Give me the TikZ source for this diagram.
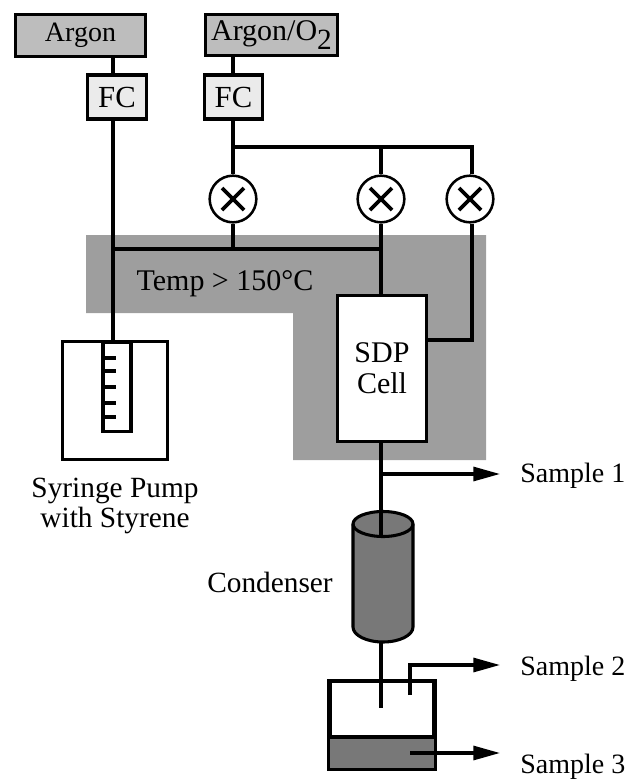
\documentclass[tikz,border=0pt]{standalone}
\usepackage{fontspec}
\setmainfont{Liberation Serif}
\usetikzlibrary{arrows.meta,calc}
\definecolor{heat}{gray}{0.62}
\definecolor{gasfill}{gray}{0.74}
\definecolor{fcfill}{gray}{0.92}
\definecolor{darkfill}{gray}{0.47}
\tikzset{
  ln/.style={line width=2.3pt,black},
  box/.style={draw=black,line width=2.3pt,inner sep=0pt,anchor=center,font=\fontsize{21}{24}\selectfont,align=center},
  gasbox/.style={box,fill=gasfill},
  fcbox/.style={box,fill=fcfill,minimum width=44pt,minimum height=33pt,font=\fontsize{23}{24}\selectfont},
  valve/.style={circle,draw=black,line width=1.9pt,fill=white,minimum size=35pt,inner sep=0pt},
  txt/.style={font=\fontsize{22}{22}\selectfont,inner sep=0pt,align=center},
  smp/.style={font=\fontsize{21}{22}\selectfont,inner sep=0pt,anchor=base west},
  arr/.style={line width=2.3pt,black,-{Triangle[length=20pt,width=10.5pt]}}
}
\begin{document}
\begin{tikzpicture}[x=0.75pt,y=-0.75pt]
\useasboundingbox (0,0) rectangle (638,783);
% heated zone
\fill[heat] (86,235) -- (486,235) -- (486,460) -- (293,460) -- (293,313) -- (86,313) -- cycle;
% tube reference lines
\coordinate (xa) at (113,0);
\coordinate (xb) at (233,0);
\coordinate (xc) at (381,0);
\coordinate (xd) at (472,0);
% boxes
\node[gasbox,minimum width=98pt,minimum height=31pt] (argon) at (80.5,35.5) {Argon};
\node[gasbox,minimum width=99pt,minimum height=31pt,font=\fontsize{22.5}{24}\selectfont] (argono) at (271.5,35) {Argon/O\raisebox{-7pt}{\fontsize{22}{22}\selectfont 2}};
\node[fcbox] (fc1) at (117,97) {FC};
\node[fcbox] (fc2) at (233.5,97) {FC};
\node[valve] (v1) at (233,199) {};
\node[valve] (v2) at (381,199) {};
\node[valve] (v3) at (470,199) {};
\foreach \v in {v1,v2,v3}{
  \draw[line width=2.8pt] ([shift={(-11,-11)}]\v.center) -- ([shift={(11,11)}]\v.center);
  \draw[line width=2.8pt] ([shift={(-11,11)}]\v.center) -- ([shift={(11,-11)}]\v.center);
}
\node[box,fill=white,minimum width=67pt,minimum height=109pt,font=\fontsize{22.5}{22.5}\selectfont] (cell) at (382,368.5) {SDP\\[1pt]Cell};
\node[txt,font=\fontsize{22.5}{22}\selectfont,anchor=base] (temp) at (225,290) {Temp > 150°C};
% pump
\node[box,fill=white,minimum width=79pt,minimum height=89pt] (pump) at (115,400.5) {};
\node[box,fill=white,minimum width=21pt,minimum height=67pt,anchor=north] (syr) at (117,341) {};
\foreach \y in {358,371,387,403,417}{
  \draw[ln] (syr.west |- 0,\y) -- ++(15,0);
}
\node[txt,anchor=base] (lab1) at (115,497) {Syringe Pump};
\node[txt,anchor=base] (lab2) at (115,527) {with Styrene};
% condenser
\draw[ln,fill=darkfill] (353,524) -- (353,627) arc[start angle=180,end angle=0,x radius=30,y radius=15] -- (413,524) arc[start angle=0,end angle=-180,x radius=30,y radius=12.5] -- cycle;
\draw[ln] (353,524) arc[start angle=180,end angle=0,x radius=30,y radius=12.5];
\node[txt,anchor=base east] (cond) at (333,592) {Condenser};
% collector
\node[box,fill=white,minimum width=78pt,minimum height=65pt] (coll) at (382,725) {};
\fill[darkfill] (coll.west |- 0,737) rectangle (coll.south east);
\draw[ln] (coll.north west) rectangle (coll.south east);
\draw[ln] (coll.west |- 0,737) -- (coll.east |- 0,737);
% labels
\node[smp] (s1) at (520,482) {Sample 1};
\node[smp] (s2) at (520,675) {Sample 2};
\node[smp] (s3) at (520,773) {Sample 3};
\coordinate (e1) at (500,474);
\coordinate (e2) at (500,665);
\coordinate (e3) at (500,753);
% connectors
\draw[ln] (xa |- argon.south) -- (xa |- fc1.north);
\draw[ln] (xa |- fc1.south) -- (xa |- pump.north);
\draw[ln] (xb |- argono.south) -- (xb |- fc2.north);
\draw[ln] (xb |- fc2.south) -- (xb |- v1.north);
\draw[ln] (xb |- 0,147) -- (xd |- 0,147) -- (xd |- v3.north);
\draw[ln] (xc |- 0,147) -- (xc |- v2.north);
\draw[ln] (xb |- v1.south) -- (xb |- 0,249);
\draw[ln] (xa |- 0,249) -- (xc |- 0,249);
\draw[ln] (xc |- v2.south) -- (xc |- cell.north);
\draw[ln] (xd |- v3.south) -- (xd |- 0,340) -- (cell.east |- 0,340);
\draw[ln] (xc |- cell.south) -- (xc |- 0,536);
\draw[ln] (xc |- 0,642) -- (xc |- 0,708);
\draw[arr] (xc |- e1) -- (e1);
\draw[arr] (410,695) -- (410,665) -- (e2);
\draw[arr] (410,753) -- (e3);
\end{tikzpicture}
\end{document}
